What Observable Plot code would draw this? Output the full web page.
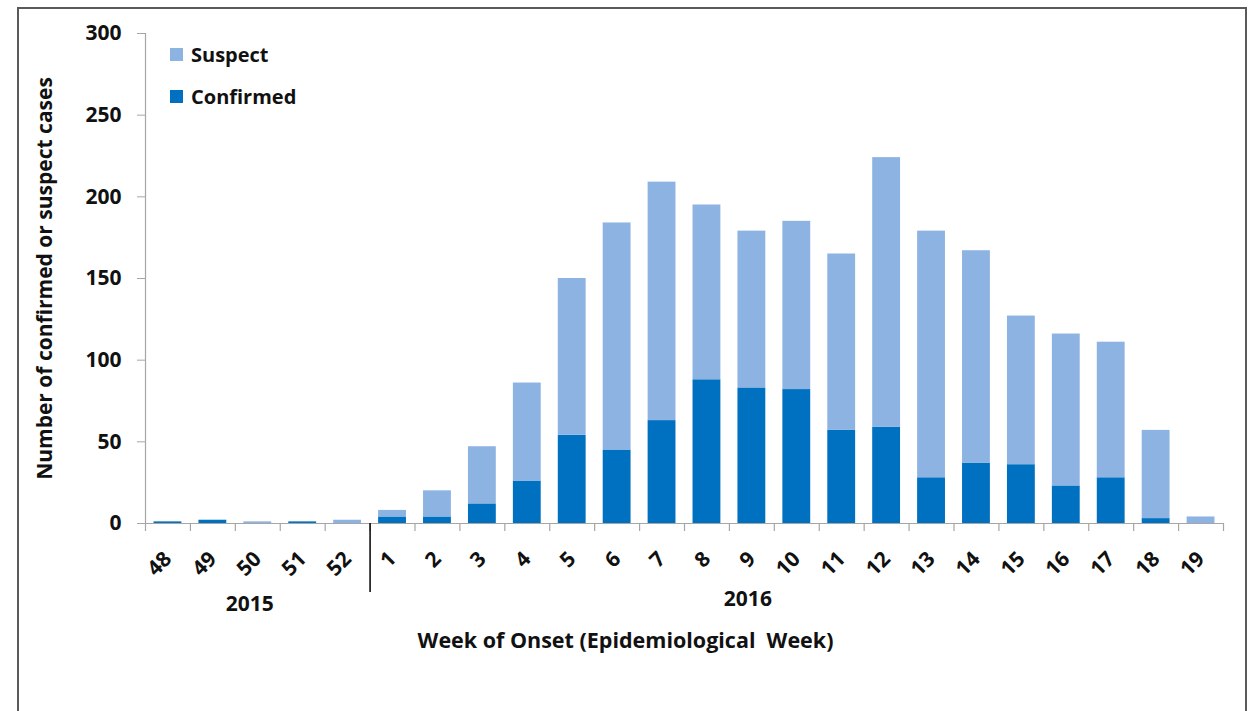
<!DOCTYPE html>
<html>
<head>
<meta charset="utf-8">
<script src="https://cdn.jsdelivr.net/npm/d3@7"></script>
<script src="https://cdn.jsdelivr.net/npm/@observablehq/plot@0.6"></script>
<style>
  html, body { margin: 0; padding: 0; background: #fff; }
  #wrap { position: relative; width: 1256px; height: 711px; overflow: hidden; font-family: "Open Sans", sans-serif; }
  #frame { position: absolute; left: 17px; top: 7px; width: 1230px; height: 740px; border: 2px solid #5a5a5a; box-sizing: border-box; pointer-events: none; }
  .leg { position: absolute; left: 170px; display: flex; align-items: center; font-weight: 700; font-size: 20px; color: #111; }
  .sw { width: 13px; height: 13px; margin-right: 8px; }
</style>
</head>
<body>
<div id="wrap">
  <div id="frame"></div>
  <div id="chart"></div>
  <div class="leg" style="top:41px"><div class="sw" style="background:#8DB3E2"></div>Suspect</div>
  <div class="leg" style="top:83px"><div class="sw" style="background:#0070C0"></div>Confirmed</div>
</div>
<script>
const weeks = ["48","49","50","51","52","1","2","3","4","5","6","7","8","9","10","11","12","13","14","15","16","17","18","19"];
const confirmed = [1,2,0,1,0,4,4,12,26,54,45,63,88,83,82,57,59,28,37,36,23,28,3,0];
const suspect   = [0,0,1,0,2,4,16,35,60,96,139,146,107,96,103,108,165,151,130,91,93,83,54,4];
const yTicks = [0,50,100,150,200,250,300];
const seriesNames = ["Confirmed","Suspect"];
const seriesColors = ["#0070C0","#8DB3E2"];
const yTitle = "Number of confirmed or suspect cases";
const xTitle = "Week of Onset (Epidemiological  Week)";
const year2015 = {year: "2015", week: "50"};
const year2016 = {year: "2016", week: "9"};

const table = [];
weeks.forEach((w, i) => {
  table.push({week: w, series: "Confirmed", value: confirmed[i]});
  table.push({week: w, series: "Suspect", value: suspect[i]});
});

const W = 1256, H = 711;
const mL = 145, mR = 33, mT = 33, mB = 188;
const step = (W - mL - mR) / weeks.length;
const half = step / 2;
const tickUnits = 8 / ((H - mT - mB) / 300);
const sepUnits = 69 / ((H - mT - mB) / 300);
const txt = {fontSize: 21, fontWeight: 700, fill: "#111"};

const chart = Plot.plot({
  width: W, height: H,
  marginLeft: mL, marginRight: mR, marginTop: mT, marginBottom: mB,
  style: {fontFamily: "Open Sans, sans-serif", background: "transparent", overflow: "visible"},
  x: {domain: weeks, paddingInner: 0.38, paddingOuter: 0.19, round: false, label: null},
  y: {domain: [0, 300], label: null},
  color: {domain: seriesNames, range: seriesColors},
  marks: [
    Plot.barY(table, Plot.stackY({x: "week", y: "value", fill: "series", order: seriesNames})),
    Plot.ruleY([0], {stroke: "#a6a6a6", strokeWidth: 1.2}),
    Plot.frame({anchor: "left", stroke: "#a6a6a6", strokeWidth: 1.2}),
    Plot.ruleX(weeks, {x: d => d, y1: 0, y2: -tickUnits, dx: -half, stroke: "#a6a6a6", strokeWidth: 1.2}),
    Plot.ruleX([weeks[weeks.length - 1]], {x: d => d, y1: 0, y2: -tickUnits, dx: half, stroke: "#a6a6a6", strokeWidth: 1.2}),
    Plot.ruleX(["1"], {x: d => d, y1: 0, y2: -sepUnits, dx: -half, stroke: "#000", strokeWidth: 1.5}),
    Plot.axisY({ticks: yTicks, tickSize: 8, tickPadding: 16, stroke: "#a6a6a6", ...txt, label: null}),
    Plot.axisX({tickSize: 0, tickRotate: -45, tickPadding: 32, dx: 0, ...txt, label: null}),
    Plot.text([year2015], {x: "week", y: 0, text: "year", dy: 81, dx: -8, ...txt}),
    Plot.text([year2016], {x: "week", y: 0, text: "year", dy: 76, dx: -4, ...txt}),
    Plot.text([yTitle], {frameAnchor: "left", textAnchor: "middle", text: d => d, rotate: -90, dx: -100, ...txt}),
    Plot.text([xTitle], {frameAnchor: "bottom", text: d => d, dx: -59, dy: 124, ...txt, fontSize: 21.5})
  ]
});
document.getElementById("chart").appendChild(chart);
</script>
</body>
</html>
